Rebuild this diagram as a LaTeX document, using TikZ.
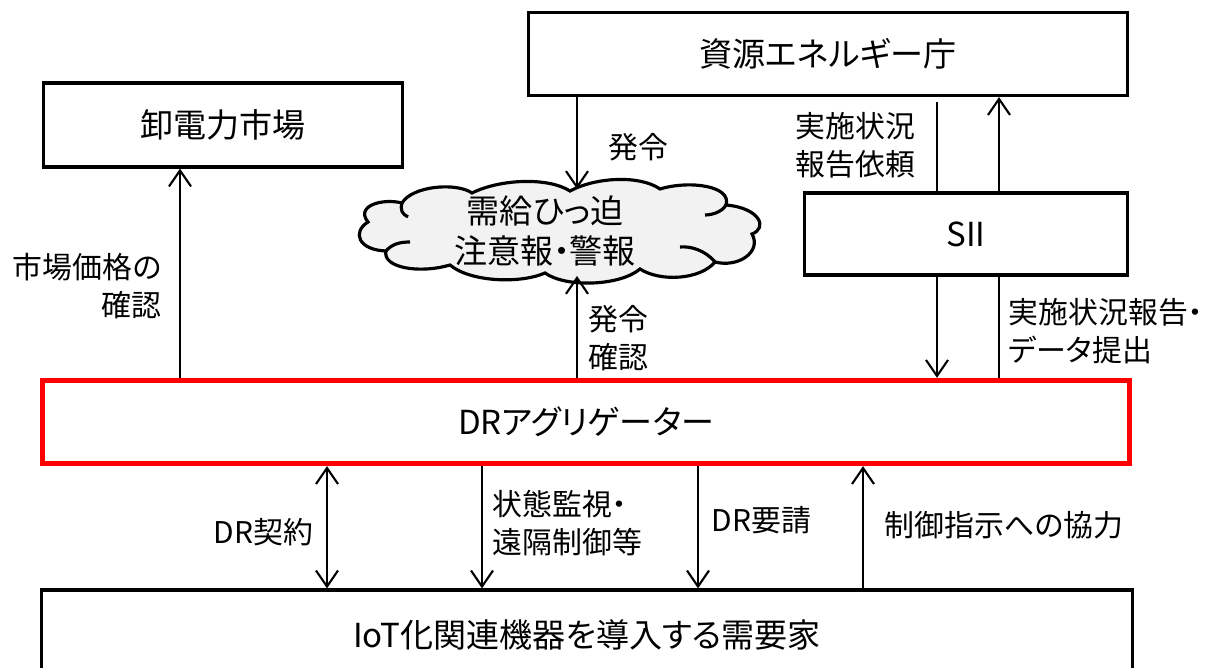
\documentclass[tikz,border=0pt]{standalone}
\usepackage{fontspec}
\setmainfont{Noto Sans CJK JP}[RawFeature=+palt]
\usetikzlibrary{arrows.meta}
\newcommand{\bigfs}{\fontsize{9.4}{11.2}\selectfont}
\newcommand{\lblfs}{\fontsize{8.5}{10.8}\selectfont}
\begin{document}
\begin{tikzpicture}[x=0.01cm, y=-0.01cm,
		box/.style={draw, line width=0.9pt, minimum height=0.83cm, inner sep=0pt, font=\bigfs},
		arr/.style={line width=0.6pt, -{Straight Barb[length=1.6mm,width=2.2mm]}},
		dblarr/.style={line width=0.6pt, {Straight Barb[length=1.6mm,width=2.2mm]}-{Straight Barb[length=1.6mm,width=2.2mm]}},
		plain/.style={line width=0.6pt},
		lbl/.style={font=\lblfs, inner sep=0pt}]
		\useasboundingbox (0,0) rectangle (1210,668);

		% Boxes
		\node[box, minimum width=5.99cm] (enecho) at (828,54) {資源エネルギー庁};
		\node[box, minimum width=3.58cm, minimum height=0.84cm] (jepx) at (223,125) {卸電力市場};
		\node[box, minimum width=3.23cm, minimum height=0.82cm] (sii) at (966,234) {SII};
		\node[box, draw=red, line width=1.5pt, minimum width=10.86cm] (aggr) at (586,422) {DRアグリゲーター};
		\node[box, minimum width=10.90cm, minimum height=0.90cm] (demand) at (587,635) {IoT化関連機器を導入する需要家};

		% Cloud
		\draw[fill=black!5, line width=0.9pt] (368,222)
			.. controls (355,206) and (382,198) .. (402,203)
			.. controls (412,186) and (456,182) .. (472,193)
			.. controls (500,179) and (548,177) .. (570,191)
			.. controls (596,177) and (640,175) .. (660,189)
			.. controls (690,180) and (732,186) .. (726,205)
			.. controls (760,208) and (768,228) .. (752,234)
			.. controls (762,252) and (738,268) .. (715,262)
			.. controls (700,280) and (660,282) .. (640,269)
			.. controls (620,286) and (566,288) .. (545,273)
			.. controls (520,284) and (470,282) .. (450,265)
			.. controls (420,274) and (382,268) .. (386,251)
			.. controls (358,250) and (352,232) .. cycle;
		\draw[line width=0.9pt] (402,203) .. controls (400,210) and (402,214) .. (408,217);
		\draw[line width=0.9pt] (726,205) .. controls (722,212) and (712,215) .. (705,215);
		\draw[line width=0.9pt] (715,262) .. controls (705,250) and (690,246) .. (680,247);
		\draw[line width=0.9pt] (386,251) .. controls (392,244) and (400,242) .. (410,242);
		\node[font=\bigfs, align=center, inner sep=0pt] (alert) at (545,231) {需給ひっ迫\\注意報・警報};
		\coordinate (alerttop) at (577,189);
		\coordinate (alertbot) at (577,276);

		% Columns of the connectors
		\coordinate (c1) at (180,0);
		\coordinate (c3) at (937,0);
		\coordinate (c4) at (999,0);
		\coordinate (d1) at (327,0);
		\coordinate (d2) at (482,0);
		\coordinate (d3) at (698,0);
		\coordinate (d4) at (863,0);

		% Upper connectors
		\draw[arr] (c1 |- aggr.north) -- (c1 |- jepx.south);
		\draw[arr] (alerttop |- enecho.south) -- (alerttop);
		\draw[arr] (alertbot |- aggr.north) -- (alertbot);
		\draw[plain, shorten <=0.05cm] (c3 |- enecho.south) -- (c3 |- sii.north);
		\draw[arr] (c4 |- sii.north) -- (c4 |- enecho.south);
		\draw[arr] (c3 |- sii.south) -- (c3 |- aggr.north);
		\draw[plain] (c4 |- aggr.north) -- (c4 |- sii.south);

		% Lower connectors
		\draw[dblarr] (d1 |- aggr.south) -- (d1 |- demand.north);
		\draw[arr] (d2 |- aggr.south) -- (d2 |- demand.north);
		\draw[arr] (d3 |- aggr.south) -- (d3 |- demand.north);
		\draw[arr] (d4 |- demand.north) -- (d4 |- aggr.south);

		% Labels
		\node[lbl, align=right, anchor=east] (lmarket) at (162,286) {市場価格の\\確認};
		\node[lbl, anchor=west] (lorder) at (608,147) {発令};
		\node[lbl, align=left, anchor=west] (lconfirm) at (588,338) {発令\\確認};
		\node[lbl, align=left, anchor=west] (lrequest) at (795,145) {実施状況\\報告依頼};
		\node[lbl, align=left, anchor=west] (lreport) at (1008,331) {実施状況報告・\\データ提出};
		\node[lbl, anchor=west] (lcontract) at (213,532) {DR契約};
		\node[lbl, align=left, anchor=west] (lmonitor) at (492,523) {状態監視・\\遠隔制御等};
		\node[lbl, anchor=west] (ldrreq) at (711,520) {DR要請};
		\node[lbl, anchor=west] (lcoop) at (884,525) {制御指示への協力};
	\end{tikzpicture}
\end{document}
